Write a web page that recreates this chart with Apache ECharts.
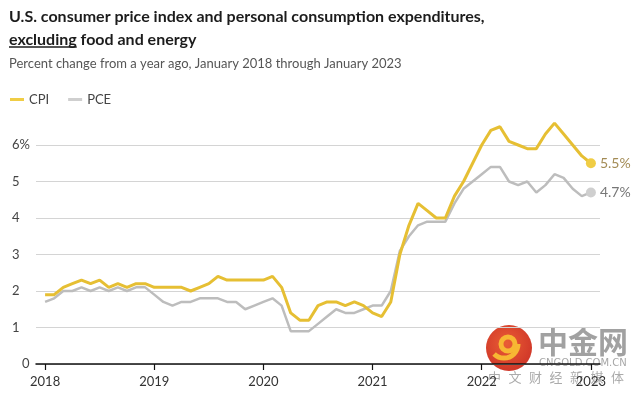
<!DOCTYPE html>
<html>
<head>
<meta charset="utf-8">
<script src="https://cdn.jsdelivr.net/npm/echarts@6/dist/echarts.min.js"></script>
<style>
  html, body { margin: 0; padding: 0; background: #fff; }
  #chart { width: 642px; height: 397px; }
</style>
</head>
<body>
<div id="chart"></div>
<script>
// year labels on the x axis, one per January
const years = ['2018', '2019', '2020', '2021', '2022', '2023']
// monthly values, Jan 2018 .. Jan 2023 (61 months)
const cpi = [
  1.9, 1.9, 2.1, 2.2, 2.3, 2.2, 2.3, 2.1, 2.2, 2.1, 2.2, 2.2,
  2.1, 2.1, 2.1, 2.1, 2.0, 2.1, 2.2, 2.4, 2.3, 2.3, 2.3, 2.3,
  2.3, 2.4, 2.1, 1.4, 1.2, 1.2, 1.6, 1.7, 1.7, 1.6, 1.7, 1.6,
  1.4, 1.3, 1.7, 3.0, 3.8, 4.4, 4.2, 4.0, 4.0, 4.6, 5.0, 5.5,
  6.0, 6.4, 6.5, 6.1, 6.0, 5.9, 5.9, 6.3, 6.6, 6.3, 6.0, 5.7,
  5.5
]
const pce = [
  1.7, 1.8, 2.0, 2.0, 2.1, 2.0, 2.1, 2.0, 2.1, 2.0, 2.1, 2.1,
  1.9, 1.7, 1.6, 1.7, 1.7, 1.8, 1.8, 1.8, 1.7, 1.7, 1.5, 1.6,
  1.7, 1.8, 1.6, 0.9, 0.9, 0.9, 1.1, 1.3, 1.5, 1.4, 1.4, 1.5,
  1.6, 1.6, 2.0, 3.1, 3.5, 3.8, 3.9, 3.9, 3.9, 4.4, 4.8, 5.0,
  5.2, 5.4, 5.4, 5.0, 4.9, 5.0, 4.7, 4.9, 5.2, 5.1, 4.8, 4.6,
  4.7
]

const font = 'Lato'
const yearTicks = years.map((y, i) => i * 12)
const last = cpi.length - 1

// measure "excluding" so the underline fits the word
const ctx = document.createElement('canvas').getContext('2d')
ctx.font = 'bold 16px ' + font
const underlineW = ctx.measureText('excluding').width

function lineSeries(name, values, color, width, dotColor, labelColor) {
  return {
    name: name,
    type: 'line',
    data: values.map((v, i) => [i, v]),
    clip: false,
    symbol: 'circle',
    showSymbol: true,
    showAllSymbol: true,
    symbolSize: (v, p) => (p.dataIndex === last ? 10 : 0),
    itemStyle: { color: dotColor },
    lineStyle: { color: color, width: width },
    emphasis: { disabled: true },
    endLabel: {
      show: true,
      distance: 9,
      formatter: p => p.value[1].toFixed(1) + '%',
      color: labelColor,
      fontFamily: font,
      fontSize: 14,
    },
    z: name === 'CPI' ? 3 : 2,
  }
}

// watermark tagline, spread out letter by letter
const tagline = ['中', '文', '财', '经', '新', '媒', '体']
const taglineText = tagline.map((c, i) => ({
  type: 'text',
  style: {
    x: 488 + i * 20.5, y: 371, text: c,
    font: '13px "Noto Sans CJK SC"',
    fill: 'rgba(150,150,150,0.8)',
  },
}))

let myChart = echarts.init(document.getElementById('chart'))
myChart.setOption({
  animation: false,
  color: ['#e6bf33', '#bdbdbd'],
  title: [
    {
      text: 'U.S. consumer price index and personal consumption expenditures,\nexcluding food and energy',
      left: 9,
      top: 5,
      padding: 0,
      textStyle: { fontFamily: font, fontWeight: 'bold', fontSize: 16, lineHeight: 23, color: '#1c1c1c' },
    },
    {
      text: 'Percent change from a year ago, January 2018 through January 2023',
      left: 9,
      top: 55,
      padding: 0,
      textStyle: { fontFamily: font, fontWeight: 'normal', fontSize: 13, lineHeight: 18, color: '#555' },
    },
  ],
  legend: {
    left: 10,
    top: 93,
    padding: 0,
    itemGap: 19,
    itemWidth: 14,
    itemHeight: 3,
    icon: 'rect',
    data: ['CPI', 'PCE'],
    textStyle: { fontFamily: font, fontSize: 13, color: '#444' },
  },
  grid: { left: 36, right: 42, top: 145, bottom: 33, containLabel: false },
  xAxis: {
    type: 'value',
    min: -1,
    max: 61,
    axisLine: { show: true, lineStyle: { color: '#111', width: 1.5 } },
    axisTick: { show: true, customValues: yearTicks, length: 6, lineStyle: { color: '#111', width: 1.2 } },
    axisLabel: {
      customValues: yearTicks,
      formatter: v => years[Math.round(v / 12)],
      margin: 11,
      fontFamily: font,
      fontSize: 13,
      color: '#333',
    },
    splitLine: { show: false },
  },
  yAxis: {
    type: 'value',
    min: 0,
    max: 6,
    interval: 1,
    axisLine: { show: false },
    axisTick: { show: false },
    splitLine: { lineStyle: { color: '#d4d4d4', width: 1 } },
    axisLabel: {
      align: 'left',
      margin: 24,
      fontFamily: font,
      fontSize: 13,
      color: '#444',
      formatter: v => (v === 6 ? '6%' : v === 0 ? '{z|0}' : String(v)),
      rich: { z: { padding: [0, 0, 0, 10], fontFamily: font, fontSize: 13, color: '#444' } },
    },
  },
  graphic: [
    {
      type: 'line',
      shape: { x1: 9, y1: 47, x2: 9 + underlineW, y2: 47 },
      style: { stroke: '#1c1c1c', lineWidth: 1.5 },
    },
    // site watermark, bottom right
    {
      type: 'group',
      z: 100,
      children: [
        {
          type: 'circle',
          shape: { cx: 509, cy: 348, r: 23 },
          style: {
            fill: new echarts.graphic.RadialGradient(0.45, 0.4, 0.7, [
              { offset: 0, color: '#e8542a' },
              { offset: 1, color: '#c9261b' },
            ]),
            opacity: 0.95,
          },
        },
        {
          type: 'arc',
          shape: { cx: 508, cy: 344, r: 7, startAngle: 0, endAngle: Math.PI * 2 },
          style: { stroke: '#f7b733', lineWidth: 5, fill: null },
        },
        {
          type: 'arc',
          shape: { cx: 504, cy: 344, r: 14, startAngle: 0, endAngle: Math.PI * 0.75 },
          style: { stroke: '#f7b733', lineWidth: 5, fill: null },
        },
        {
          type: 'text',
          style: {
            x: 538, y: 327, text: '中金网',
            font: 'bold 30px "Noto Sans CJK SC"',
            fill: 'rgba(145,145,145,0.85)',
          },
        },
        {
          type: 'text',
          style: {
            x: 539, y: 358, text: 'CNGOLD.COM.CN',
            font: '10px "DejaVu Sans"',
            fill: 'rgba(150,150,150,0.85)',
          },
        },
      ].concat(taglineText),
    },
  ],
  series: [
    lineSeries('CPI', cpi, '#e6bf33', 3, '#f0cd45', '#a38b55'),
    lineSeries('PCE', pce, '#bdbdbd', 2.5, '#cfcfcf', '#777'),
  ],
})
</script>
</body>
</html>
